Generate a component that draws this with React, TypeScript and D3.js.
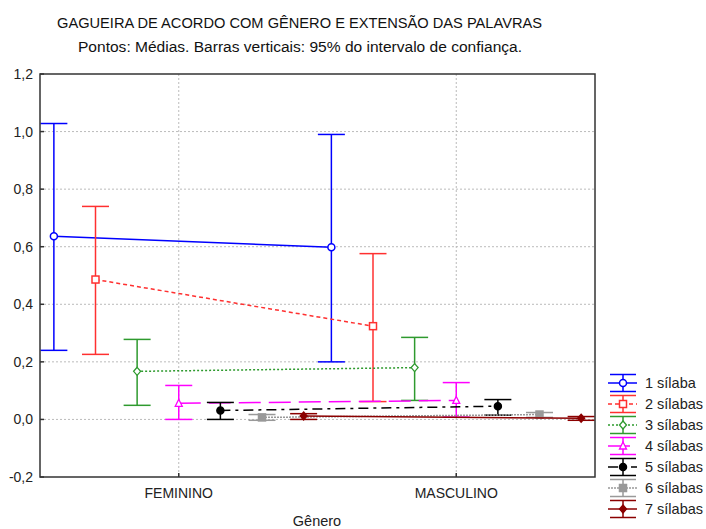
import React from "react";
import * as d3 from "d3";

const categories = ["FEMININO", "MASCULINO"];
const seriesNames = ["1 sílaba", "2 sílabas", "3 sílabas", "4 sílabas", "5 sílabas", "6 sílabas", "7 sílabas"];
const meanF = [0.636, 0.486, 0.167, 0.056, 0.031, 0.007, 0.012];
const meanM = [0.598, 0.324, 0.18, 0.066, 0.046, 0.017, 0.004];
const lowF = [0.24, 0.226, 0.049, 0.0, 0.0, -0.003, 0.0];
const highF = [1.028, 0.74, 0.278, 0.118, 0.059, 0.017, 0.02];
const lowM = [0.2, 0.062, 0.066, 0.008, 0.015, 0.007, -0.003];
const highM = [0.99, 0.576, 0.285, 0.128, 0.069, 0.024, 0.01];
const yTicks = [-0.2, 0, 0.2, 0.4, 0.6, 0.8, 1.0, 1.2];

const colors = ["#0000ff", "#ff3030", "#2e9a2e", "#ff00ff", "#000000", "#999999", "#8b0000"];
const dashes = ["", "4,3", "2,2", "22,8", "10,5,3,5", "2,1", ""];
const markers = ["circle", "square", "diamond", "triangle", "fcircle", "fsquare", "fdiamond"];

const font = "Arial, 'Liberation Sans', sans-serif";

function Marker({ type, x, y, color }: { type: string; x: number; y: number; color: string }) {
  const filled = type.startsWith("f");
  const fill = filled ? color : "#fff";
  const base = filled ? type.slice(1) : type;
  const s = 3.5;
  if (base === "circle") return <circle cx={x} cy={y} r={s} fill={fill} stroke={color} strokeWidth={1.5} />;
  if (base === "square") return <rect x={x - s} y={y - s} width={2 * s} height={2 * s} fill={fill} stroke={color} strokeWidth={1.5} />;
  if (base === "diamond") return <path d={`M${x},${y - s - 0.5}L${x + s},${y}L${x},${y + s + 0.5}L${x - s},${y}Z`} fill={fill} stroke={color} strokeWidth={1.3} />;
  return <path d={`M${x},${y - s - 0.5}L${x + s},${y + s - 0.5}L${x - s},${y + s - 0.5}Z`} fill={fill} stroke={color} strokeWidth={1.3} />;
}

export default function App() {
  const W = 706, H = 529;
  const x = d3.scaleLinear().domain([-0.5, 1.5]).range([40, 595]);
  const y = d3.scaleLinear().domain([-0.2, 1.2]).range([477, 74]);
  const off = (i: number) => (i - 3) * 0.15;
  const cap = 13.5;
  const line = d3.line<[number, number]>().x((d) => d[0]).y((d) => d[1]);

  return (
    <svg width={W} height={H} style={{ position: "absolute", left: 0, top: 0, background: "#fff" }} fontFamily={font}>
      <rect width={W} height={H} fill="#fff" />
      <text x={57} y={28} fontSize={14} textLength={485} lengthAdjust="spacingAndGlyphs" fill="#111">GAGUEIRA DE ACORDO COM GÊNERO E EXTENSÃO DAS PALAVRAS</text>
      <text x={78} y={52} fontSize={14} textLength={444} lengthAdjust="spacingAndGlyphs" fill="#111">Pontos: Médias. Barras verticais: 95% do intervalo de confiança.</text>

      {yTicks.map((t) => (
        <g key={t}>
          {t > -0.2 && t < 1.2 && (
            <line x1={40} x2={595} y1={y(t)} y2={y(t)} stroke="#bbb" strokeDasharray="2,2" strokeWidth={1} />
          )}
          <line x1={40} x2={44} y1={y(t)} y2={y(t)} stroke="#333" strokeWidth={1.5} />
          <text x={33} y={y(t) + 5} textAnchor="end" fontSize={14} fill="#222">
            {d3.format(".1f")(t).replace(".", ",").replace("−", "-")}
          </text>
        </g>
      ))}
      {categories.map((c, j) => (
        <g key={c}>
          <line x1={x(j)} x2={x(j)} y1={74} y2={477} stroke="#bbb" strokeDasharray="2,2" strokeWidth={1} />
          <line x1={x(j)} x2={x(j)} y1={473} y2={477} stroke="#333" strokeWidth={1.5} />
          <text x={x(j)} y={498} textAnchor="middle" fontSize={14} fill="#222">{c}</text>
        </g>
      ))}
      <text x={317} y={526} textAnchor="middle" fontSize={14.5} fill="#222">Gênero</text>

      {seriesNames.map((n, i) => {
        const xf = x(0 + off(i));
        const xm = x(1 + off(i));
        const c = colors[i];
        return (
          <g key={n}>
            <path d={line([[xf, y(meanF[i])], [xm, y(meanM[i])]]) || ""} stroke={c} strokeWidth={1.5} fill="none" strokeDasharray={dashes[i] || undefined} />
            {[[xf, lowF[i], highF[i], meanF[i]], [xm, lowM[i], highM[i], meanM[i]]].map(([px, lo, hi, m], k) => (
              <g key={k}>
                <line x1={px} x2={px} y1={y(lo)} y2={y(hi)} stroke={c} strokeWidth={1.5} />
                <line x1={px - cap} x2={px + cap} y1={y(hi)} y2={y(hi)} stroke={c} strokeWidth={1.5} />
                <line x1={px - cap} x2={px + cap} y1={y(lo)} y2={y(lo)} stroke={c} strokeWidth={1.5} />
                <Marker type={markers[i]} x={px} y={y(m)} color={c} />
              </g>
            ))}
          </g>
        );
      })}

      <rect x={40} y={74} width={555} height={403} fill="none" stroke="#333" strokeWidth={1.5} />

      {seriesNames.map((n, i) => {
        const ly = 383 + i * 21;
        const c = colors[i];
        return (
          <g key={n}>
            <line x1={608} x2={637} y1={ly} y2={ly} stroke={c} strokeWidth={1.5} strokeDasharray={dashes[i] || undefined} />
            <line x1={610} x2={636} y1={ly - 8.5} y2={ly - 8.5} stroke={c} strokeWidth={1.5} />
            <line x1={610} x2={636} y1={ly + 8.5} y2={ly + 8.5} stroke={c} strokeWidth={1.5} />
            <line x1={623} x2={623} y1={ly - 8.5} y2={ly + 8.5} stroke={c} strokeWidth={1.5} />
            <Marker type={markers[i]} x={623} y={ly} color={c} />
            <text x={645} y={ly + 5} fontSize={14.5} fill="#222">{n}</text>
          </g>
        );
      })}
    </svg>
  );
}
